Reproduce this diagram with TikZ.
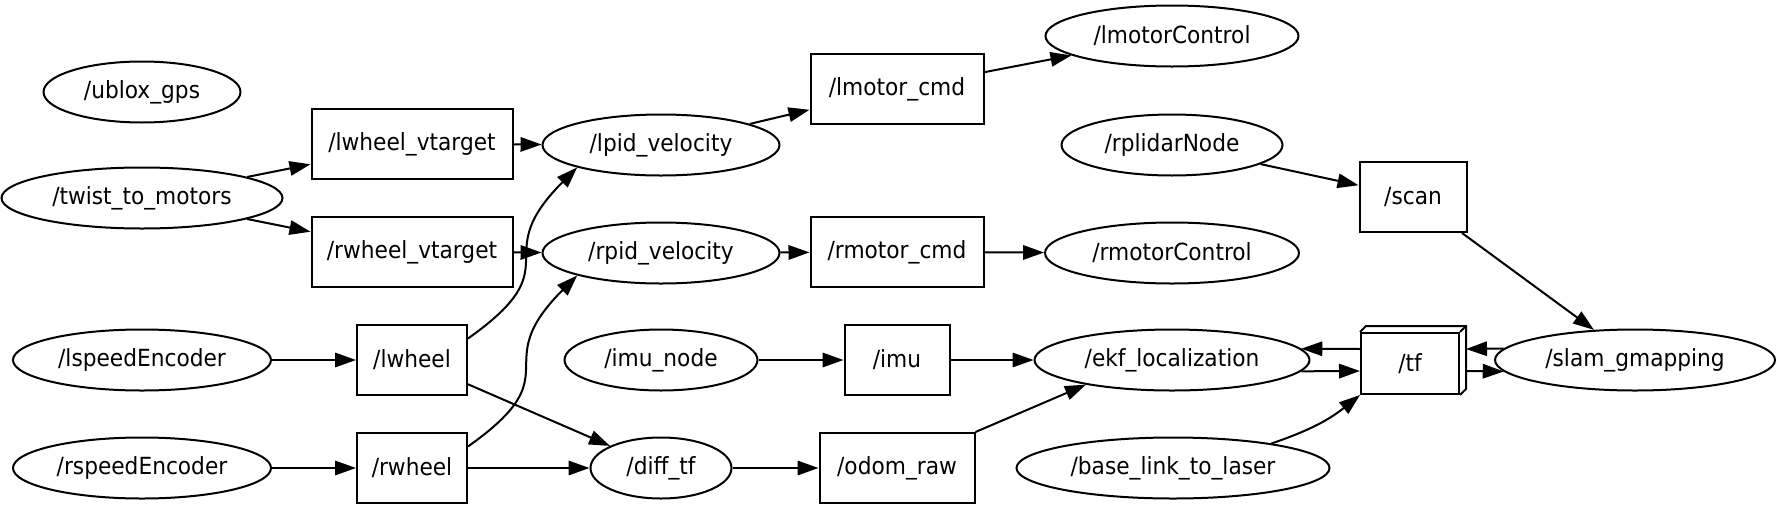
\documentclass[tikz,border=0pt]{standalone}
\usepackage{fontspec}
\setmainfont{DejaVu Sans}[FakeStretch=0.92]
\usetikzlibrary{arrows.meta, shapes.geometric}

\begin{document}
\begin{tikzpicture}[
    x=0.5pt, y=-0.5pt,
    lbl/.style={font=\fontsize{11.8pt}{14pt}\selectfont, line width=1pt, inner sep=0pt},
    rosnode/.style={lbl, draw, ellipse, minimum height=30.5pt},
    topic/.style={lbl, draw, rectangle, minimum height=35pt},
    arrow/.style={-{Triangle[length=10.5pt, width=7.2pt]}, line width=1pt}
]
\useasboundingbox (0,0) rectangle (1777,504);

% nodes (ellipses)
\node[rosnode, minimum width=98.5pt] (ublox) at (142,92) {/ublox\_gps};
\node[rosnode, minimum width=140.5pt] (twist) at (142,198) {/twist\_to\_motors};
\node[rosnode, minimum width=129pt] (lspeed) at (142,360) {/lspeedEncoder};
\node[rosnode, minimum width=129pt] (rspeed) at (142,468) {/rspeedEncoder};
\node[rosnode, minimum width=118.5pt] (lpid) at (661,145) {/lpid\_velocity};
\node[rosnode, minimum width=118.5pt] (rpid) at (661,253) {/rpid\_velocity};
\node[rosnode, minimum width=96.5pt] (imunode) at (661,360) {/imu\_node};
\node[rosnode, minimum width=70.5pt] (difftf) at (661,468) {/diff\_tf};
\node[rosnode, minimum width=126.5pt] (lctrl) at (1172,36) {/lmotorControl};
\node[rosnode, minimum width=110.5pt] (rplidar) at (1172,145) {/rplidarNode};
\node[rosnode, minimum width=127pt] (rctrl) at (1172,253) {/rmotorControl};
\node[rosnode, minimum width=137.5pt] (ekf) at (1172,360) {/ekf\_localization};
\node[rosnode, minimum width=156.5pt] (baselink) at (1173,468) {/base\_link\_to\_laser};
\node[rosnode, minimum width=140pt] (slam) at (1635,360) {/slam\_gmapping};

% topics (boxes)
\node[topic, minimum width=100.5pt] (lvtarget) at (412,144) {/lwheel\_vtarget};
\node[topic, minimum width=100.5pt] (rvtarget) at (412,252) {/rwheel\_vtarget};
\node[topic, minimum width=55pt] (lwheel) at (412,360) {/lwheel};
\node[topic, minimum width=55pt] (rwheel) at (412,468) {/rwheel};
\node[topic, minimum width=86.5pt] (lcmd) at (897,89) {/lmotor\_cmd};
\node[topic, minimum width=86.5pt] (rcmd) at (897,252) {/rmotor\_cmd};
\node[topic, minimum width=52.5pt] (imu) at (897,360) {/imu};
\node[topic, minimum width=77.5pt] (odom) at (897,468) {/odom\_raw};
\node[topic, minimum width=53.5pt] (scan) at (1413,197) {/scan};
\node[topic, minimum width=49pt, minimum height=30.5pt] (tf) at (1410,363.5) {/tf};
\draw[line width=1pt] (tf.north west) -- ++(3pt,3pt) -- ([shift={(3pt,3pt)}]tf.north east)
    -- ([shift={(3pt,3pt)}]tf.south east) -- (tf.south east);
\draw[line width=1pt] (tf.north east) -- ++(3pt,3pt);

% connections
\draw[arrow] (twist) -- (lvtarget);
\draw[arrow] (twist) -- (rvtarget);
\draw[arrow] (lvtarget) -- (lpid);
\draw[arrow] (rvtarget) -- (rpid);
\draw[arrow] (lpid) -- (lcmd);
\draw[arrow] (lcmd) -- (lctrl);
\draw[arrow] (rpid) -- (rcmd);
\draw[arrow] (rcmd) -- (rctrl);
\draw[arrow] (rplidar) -- (scan);
\draw[arrow] (scan) -- (slam);
\draw[arrow] (lspeed) -- (lwheel);
\draw[arrow] (rspeed) -- (rwheel);
\draw[arrow] (lwheel.21) .. controls +(106,-75) and +(-92,92) .. (lpid.195);
\draw[arrow] (rwheel.21) .. controls +(106,-75) and +(-92,92) .. (rpid.195);
\draw[arrow] (lwheel) -- (difftf);
\draw[arrow] (rwheel) -- (difftf);
\draw[arrow] (imunode) -- (imu);
\draw[arrow] (imu) -- (ekf);
\draw[arrow] (difftf) -- (odom);
\draw[arrow] (odom.north east) -- (ekf.196);
\draw[arrow] ([yshift=7.25pt]tf.west) -- (ekf.5);
\draw[arrow] (ekf.-5) -- ([yshift=-3.75pt]tf.west);
\draw[arrow] (baselink.14) to[bend right=10] (tf.south west);
\draw[arrow] ([xshift=3pt, yshift=-3.75pt]tf.east) -- (slam.185);
\draw[arrow] (slam.175) -- ([xshift=3pt, yshift=7.25pt]tf.east);

\end{tikzpicture}
\end{document}
